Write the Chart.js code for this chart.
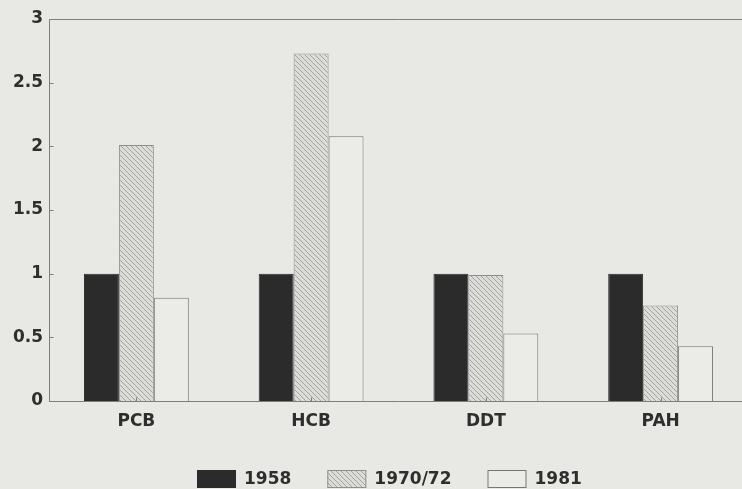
<!DOCTYPE html>
<html>
<head>
<meta charset="utf-8">
<script src="https://cdn.jsdelivr.net/npm/chart.js@4/dist/chart.umd.min.js"></script>
<style>
  html, body { margin: 0; padding: 0; background: #e8e8e5; overflow: hidden; }
  #wrap { width: 748px; height: 489px; }
</style>
</head>
<body>
<div id="wrap"><canvas id="c" width="748" height="489"></canvas></div>
<script>
// Relative contaminant levels per compound group (1958 = 1)
const categories = ['PCB', 'HCB', 'DDT', 'PAH'];
const seriesNames = ['1958', '1970/72', '1981'];
const values1958 = [1, 1, 1, 1];
const values1970 = [2.01, 2.73, 0.99, 0.75];
const values1981 = [0.81, 2.08, 0.53, 0.43];
const yMin = 0, yMax = 3, yStep = 0.5;

const INK = '#2e2e2e';
const LINE = '#7d7d7b';
const FONT = { family: '"DejaVu Sans", sans-serif', size: 17, weight: 'bold' };

// Diagonal hatch fill for the middle period
function makeHatch() {
  const n = 5;
  const t = document.createElement('canvas');
  t.width = n; t.height = n;
  const g = t.getContext('2d');
  g.fillStyle = '#dcdcd9';
  g.fillRect(0, 0, n, n);
  g.strokeStyle = '#a2a2a0';
  g.lineWidth = 1;
  g.beginPath();
  g.moveTo(-1, -1); g.lineTo(n + 1, n + 1);
  g.moveTo(-1, n - 1); g.lineTo(1, n + 1);
  g.moveTo(n - 1, -1); g.lineTo(n + 1, 1);
  g.stroke();
  return g.createPattern(t, 'repeat');
}
const hatch = makeHatch();

// Plot frame plus short inward tick marks
const framePlugin = {
  id: 'frame',
  afterDatasetsDraw(chart) {
    const { ctx, chartArea: a, scales: { x, y } } = chart;
    const L = Math.round(a.left) + 0.5, R = Math.round(a.right) - 0.5;
    const T = Math.round(a.top) + 0.5, B = Math.round(a.bottom) + 0.5;
    ctx.save();
    ctx.strokeStyle = LINE;
    ctx.lineWidth = 1;
    ctx.beginPath();
    ctx.moveTo(L, B); ctx.lineTo(L, T); ctx.lineTo(R, T); ctx.lineTo(R, B); ctx.lineTo(L, B);
    y.ticks.forEach((t, i) => {
      const py = Math.round(y.getPixelForTick(i)) + 0.5;
      ctx.moveTo(L, py); ctx.lineTo(L + 4, py);
    });
    categories.forEach((c, i) => {
      const px = Math.round(x.getPixelForTick(i)) + 0.5;
      ctx.moveTo(px, B); ctx.lineTo(px, B - 4);
    });
    ctx.stroke();
    ctx.restore();
  }
};

// Legend row under the axis
const legendPlugin = {
  id: 'legendRow',
  afterDraw(chart) {
    const { ctx } = chart;
    const boxW = 39, boxH = 18, gap = 8, spacing = 36, centerX = 389, boxTop = 470;
    ctx.save();
    ctx.font = `${FONT.weight} ${FONT.size}px ${FONT.family}`;
    ctx.textBaseline = 'middle';
    ctx.textAlign = 'left';
    const ds = chart.data.datasets;
    const widths = ds.map(d => boxW + gap + ctx.measureText(d.label).width);
    const total = widths.reduce((s, w) => s + w, 0) + spacing * (ds.length - 1);
    let cx = Math.round(centerX - total / 2);
    ds.forEach((d, i) => {
      ctx.fillStyle = d.backgroundColor;
      ctx.fillRect(cx, boxTop, boxW, boxH);
      ctx.strokeStyle = d.borderColor;
      ctx.lineWidth = 1;
      ctx.strokeRect(cx + 0.5, boxTop + 0.5, boxW - 1, boxH - 1);
      ctx.fillStyle = INK;
      ctx.fillText(d.label, cx + boxW + gap, boxTop + boxH / 2 + 1);
      cx += widths[i] + spacing;
    });
    ctx.restore();
  }
};

new Chart(document.getElementById('c'), {
  type: 'bar',
  data: {
    labels: categories,
    datasets: [
      { label: seriesNames[0], data: values1958, backgroundColor: '#2b2b2b', borderColor: '#2b2b2b', borderWidth: 1 },
      { label: seriesNames[1], data: values1970, backgroundColor: hatch, borderColor: '#8e8e8c', borderWidth: 1 },
      { label: seriesNames[2], data: values1981, backgroundColor: '#ebebe8', borderColor: '#767674', borderWidth: 1 }
    ]
  },
  options: {
    responsive: false,
    animation: false,
    events: [],
    datasets: { bar: { categoryPercentage: 0.6, barPercentage: 1 } },
    layout: { padding: { top: 19, left: 0, right: 0, bottom: 0 } },
    plugins: { legend: { display: false }, tooltip: { enabled: false } },
    scales: {
      x: {
        grid: { display: false, drawTicks: false },
        border: { display: false },
        ticks: { padding: 10, color: INK, font: FONT },
        afterFit(s) { s.height = 88; }
      },
      y: {
        min: yMin, max: yMax,
        grid: { display: false, drawTicks: false },
        border: { display: false },
        ticks: { stepSize: yStep, padding: 6, color: INK, font: FONT, callback: v => String(Number(v)) },
        afterFit(s) { s.width = 49; }
      }
    }
  },
  plugins: [framePlugin, legendPlugin]
});
</script>
</body>
</html>
